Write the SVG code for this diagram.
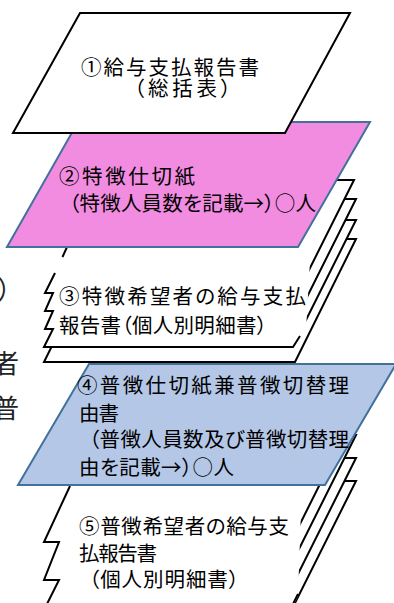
<svg xmlns="http://www.w3.org/2000/svg" width="394" height="603" viewBox="0 0 394 603">
<style>
.pg{fill:#fff;stroke:#000;stroke-width:2;stroke-linejoin:miter}
.ln{fill:none;stroke:#000;stroke-width:2;stroke-linejoin:miter}
.wf{fill:#fff;stroke:none}
.t{font-family:"Noto Sans CJK JP",sans-serif;font-size:20.5px;fill:#000;font-feature-settings:"palt" 1}
.side{font-family:"Noto Sans CJK JP",serif;font-size:26px;fill:#222}
.pink{fill:#f28ce0;stroke:#41719c;stroke-width:2}
.blue{fill:#b4c7e7;stroke:#41719c;stroke-width:2}
</style>
<rect width="394" height="603" fill="#fff"/>
<g id="side-text">
<text class="side" x="-3" y="299">）</text>
<text class="side" x="-7" y="373">者</text>
<text class="side" x="-7" y="418">普</text>
</g>
<g id="connectors"></g>
<g id="node5">
<polygon class="pg" points="356,481 286,621 100,621 170,481"/>
<polygon class="pg" points="356,458 274.5,621 100,621 170,458"/>
<polygon class="pg" points="356,435 263,621 100,621 170,435"/>
<polygon class="pg" points="356,412 251.5,621 100,621 170,412"/>
<polygon class="wf" points="72,482 302,482 298,596 293,606 47,606 59,580 44,580 59,542 44,542 70,486"/>
<path class="ln" d="M70,486 L44,542 L59,542 L44,580 L59,580 L47,604 M293,604 L298,594"/>
<text class="t" x="79" y="534" textLength="210" lengthAdjust="spacing">⑤普徴希望者の給与支</text>
<text class="t" x="79" y="560.5" textLength="78" lengthAdjust="spacing">払報告書</text>
<text class="t" x="89" y="587" textLength="150" lengthAdjust="spacing">（個人別明細書）</text>
</g>
<g id="node3">
<polygon class="pg" points="356,239 295,362 44,362 105,239"/>
<polygon class="pg" points="356,220 303,326 70,326 123,220"/>
<polygon class="pg" points="356,199 296.5,318 70,318 129.5,199"/>
<polygon class="pg" points="354,180 294,300 70,300 130,180"/>
<polygon class="wf" points="68,244 311,244 306,330 293,347 44,347 53,329 45,329 53,311 45,311 53,293 45,293 55,273"/>
<path class="ln" d="M67,247 L62.5,257 M55,273 L45,293 L53,293 L45,311 L53,311 L45,329 L53,329 L44,347 L293,347 L300,336"/>
<text class="t" x="59" y="304" textLength="247" lengthAdjust="spacing">③特徴希望者の給与支払</text>
<text class="t" x="59" y="332.5" textLength="208" lengthAdjust="spacing">報告書（個人別明細書）</text>
</g>
<g id="node4">
<polygon class="blue" points="89,364 396,364 325,485 18,485"/>
<text class="t" x="77" y="392.5" textLength="272" lengthAdjust="spacing">④普徴仕切紙兼普徴切替理</text>
<text class="t" x="79" y="420.5" textLength="40" lengthAdjust="spacing">由書</text>
<text class="t" x="89" y="447" textLength="260" lengthAdjust="spacing">（普徴人員数及び普徴切替理</text>
<text class="t" x="79" y="474.5" textLength="155" lengthAdjust="spacing">由を記載→）○人</text>
</g>
<g id="node2">
<polygon class="pink" points="78,122 370,122 298,247 7,247"/>
<text class="t" x="59" y="184" textLength="136" lengthAdjust="spacing">②特徴仕切紙</text>
<text class="t" x="69" y="210.5" textLength="247" lengthAdjust="spacing">（特徴人員数を記載→）○人</text>
</g>
<g id="node1">
<polygon class="pg" points="80,13 350,13 285,133 13,133"/>
<text class="t" x="81" y="75" textLength="178" lengthAdjust="spacing">①給与支払報告書</text>
<text class="t" x="134" y="96" textLength="97" lengthAdjust="spacing">（総括表）</text>
</g>
</svg>
